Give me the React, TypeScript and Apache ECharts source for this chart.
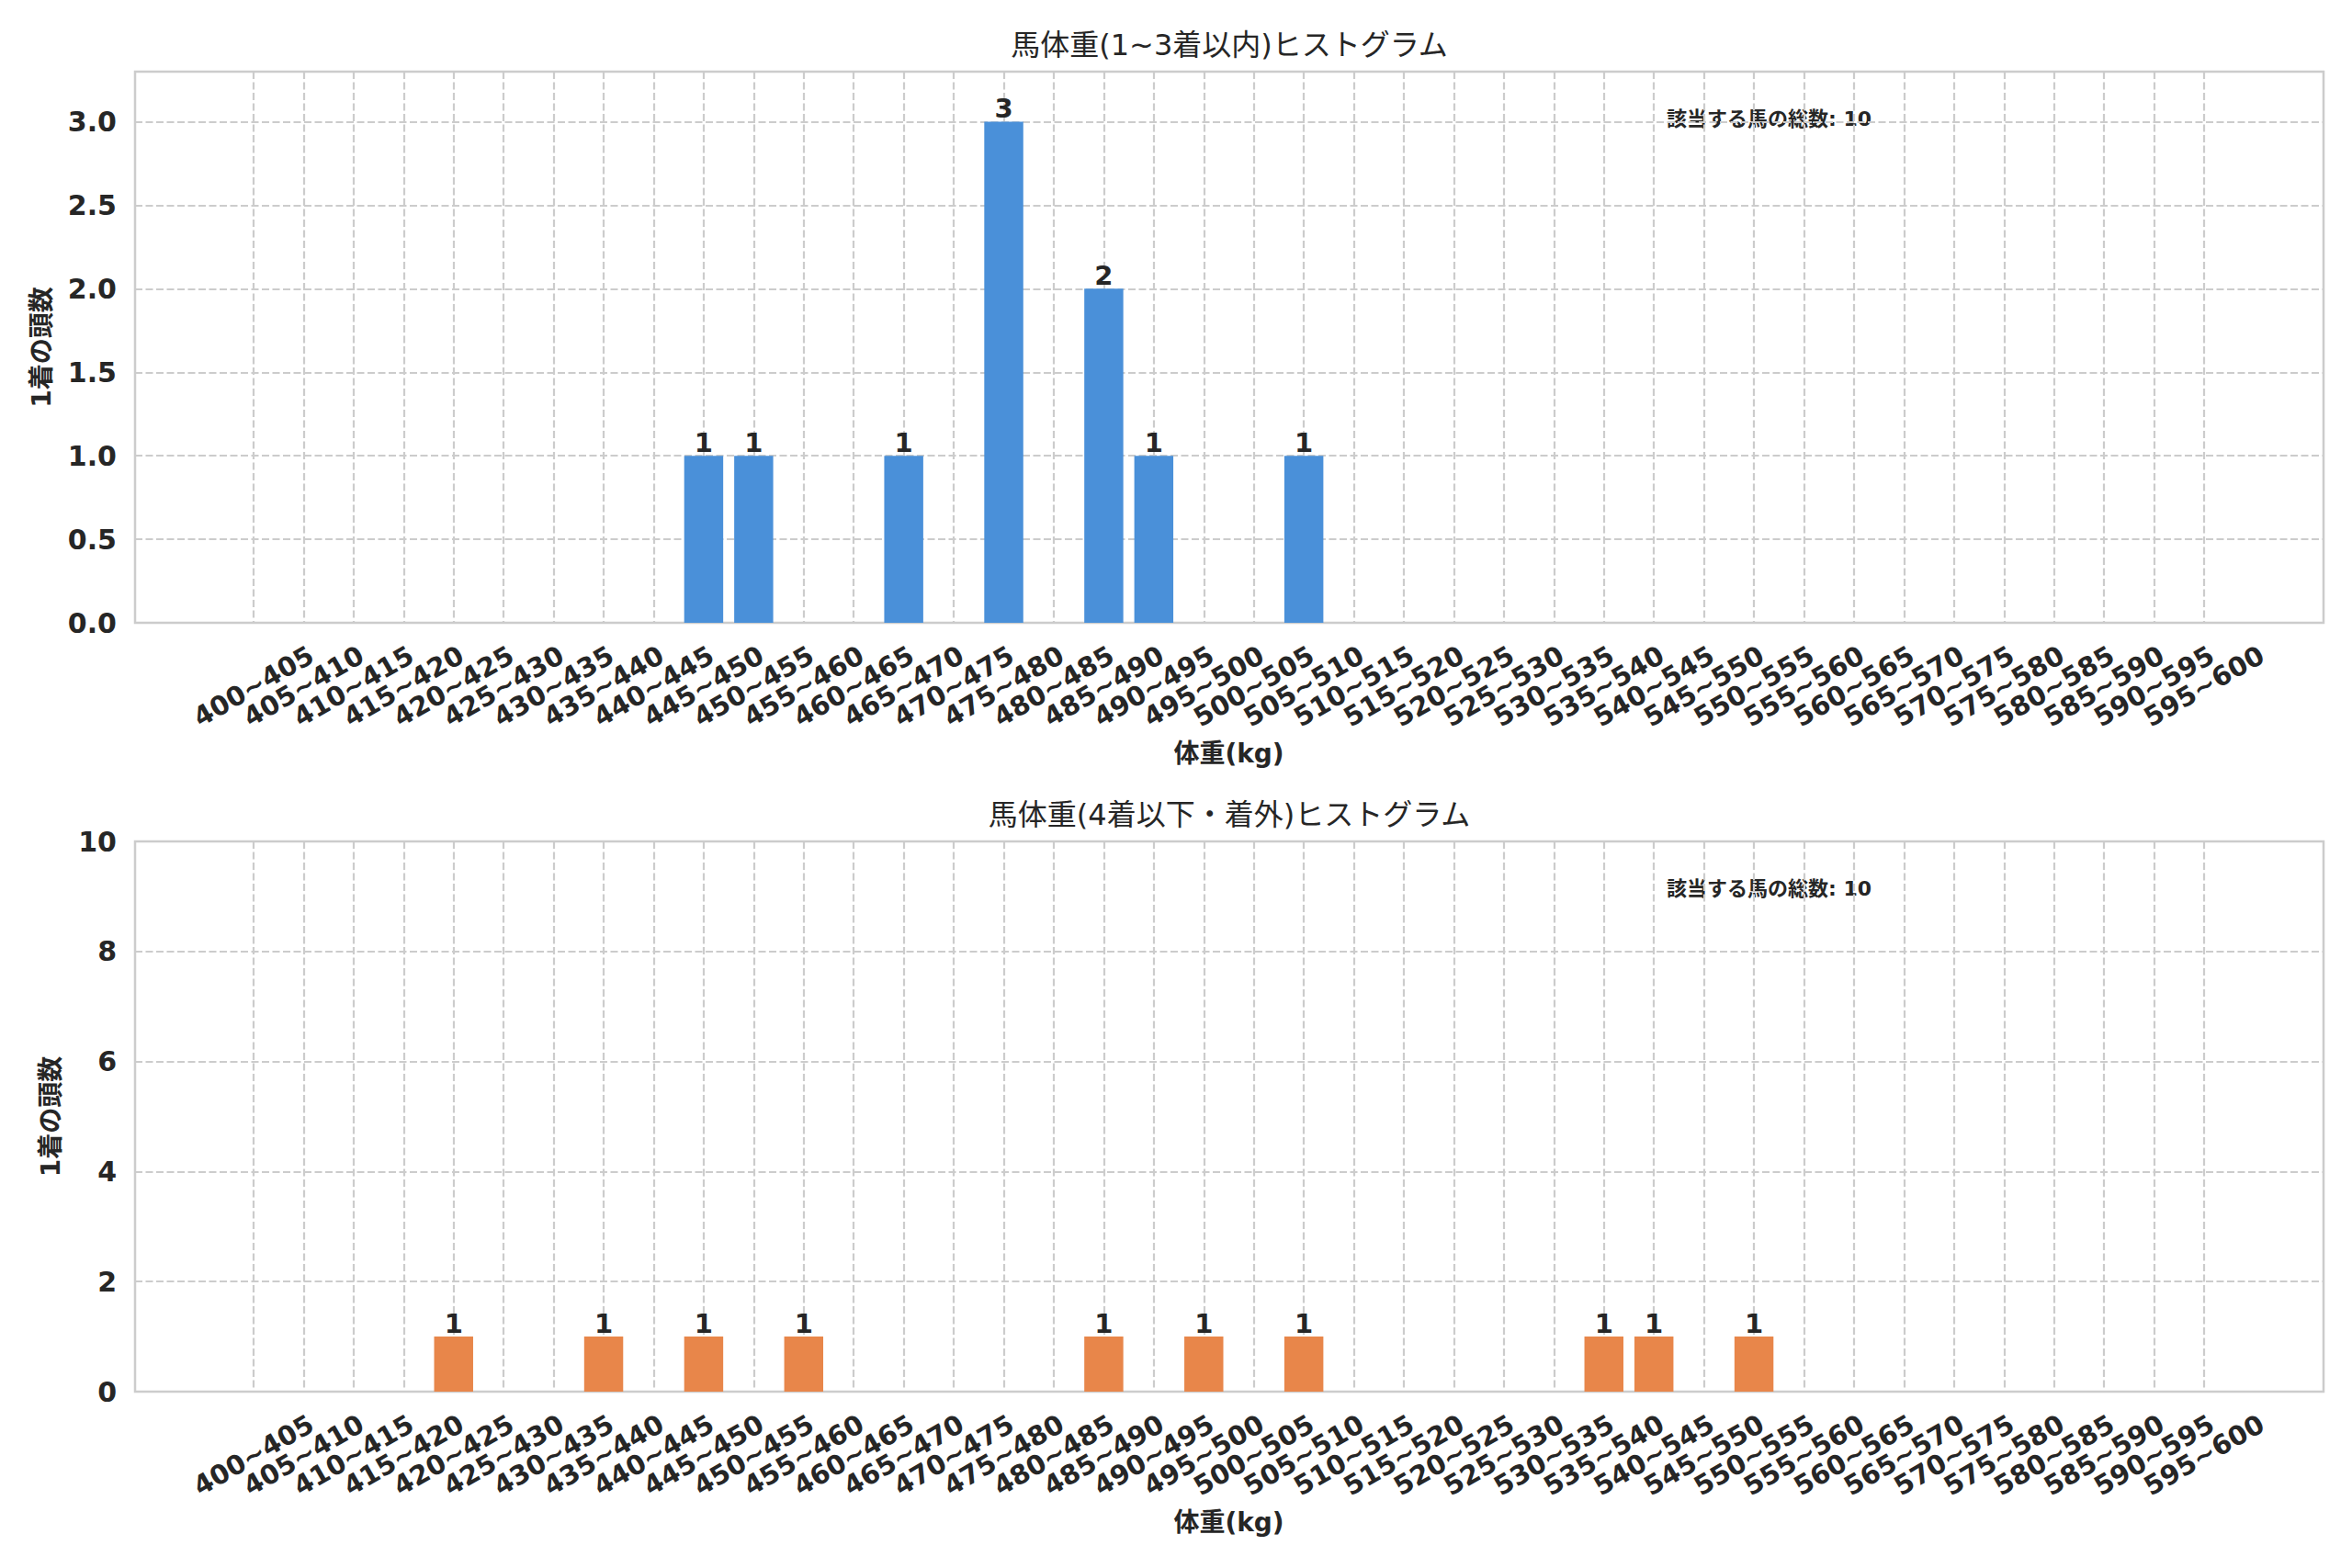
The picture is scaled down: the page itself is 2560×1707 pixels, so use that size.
import React, { useEffect, useRef } from "react";
import * as echarts from "echarts";

const categories = [
  "400~405", "405~410", "410~415", "415~420", "420~425", "425~430", "430~435", "435~440",
  "440~445", "445~450", "450~455", "455~460", "460~465", "465~470", "470~475", "475~480",
  "480~485", "485~490", "490~495", "495~500", "500~505", "505~510", "510~515", "515~520",
  "520~525", "525~530", "530~535", "535~540", "540~545", "545~550", "550~555", "555~560",
  "560~565", "565~570", "570~575", "575~580", "580~585", "585~590", "590~595", "595~600",
];

const topValues = [
  0, 0, 0, 0, 0, 0, 0, 0,
  0, 1, 1, 0, 0, 1, 0, 3,
  0, 2, 1, 0, 0, 1, 0, 0,
  0, 0, 0, 0, 0, 0, 0, 0,
  0, 0, 0, 0, 0, 0, 0, 0,
];

const bottomValues = [
  0, 0, 0, 0, 1, 0, 0, 1,
  0, 1, 0, 1, 0, 0, 0, 0,
  0, 1, 0, 1, 0, 1, 0, 0,
  0, 0, 0, 1, 1, 0, 1, 0,
  0, 0, 0, 0, 0, 0, 0, 0,
];

const topTitle = "馬体重(1~3着以内)ヒストグラム";
const bottomTitle = "馬体重(4着以下・着外)ヒストグラム";
const xLabel = "体重(kg)";
const yLabel = "1着の頭数";
const noteLabel = "該当する馬の総数";

const topYMax = 3.3;
const topYInterval = 0.5;
const bottomYMax = 10;
const bottomYInterval = 2;

const FONT = '"DejaVu Sans", "Noto Sans CJK JP", sans-serif';
const TEXT = "#262626";
const GRIDC = "#cccccc";
const BLUE = "#4a90d9";
const ORANGE = "#e8864a";

const OUTER_LEFT = 147;
const OUTER_W = 2382;
const INNER_LEFT = 276;
const INNER_W = 2123;
const PANELS = [
  { top: 78, height: 600 },
  { top: 916, height: 599 },
];

const dashed = { color: GRIDC, width: 2.2, type: [8, 3.5] as any };

function buildOption() {
  const sum = (a: number[]) => a.reduce((s, v) => s + v, 0);
  const panelsData = [
    { values: topValues, max: topYMax, interval: topYInterval, color: BLUE, title: topTitle, fmt: (v: number) => v.toFixed(1), nameGap: 88 },
    { values: bottomValues, max: bottomYMax, interval: bottomYInterval, color: ORANGE, title: bottomTitle, fmt: (v: number) => String(v), nameGap: 78 },
  ];

  const grid: any[] = [];
  const xAxis: any[] = [];
  const yAxis: any[] = [];
  const series: any[] = [];
  const graphic: any[] = [];

  panelsData.forEach((p, i) => {
    const { top, height } = PANELS[i];
    grid.push({
      left: OUTER_LEFT, top, width: OUTER_W, height, show: true,
      borderColor: GRIDC, borderWidth: 2.5, backgroundColor: "#ffffff", outerBoundsMode: "none",
    });
    grid.push({ left: INNER_LEFT, top, width: INNER_W, height, outerBoundsMode: "none" });
    const og = i * 2;
    const ig = i * 2 + 1;
    xAxis.push({ gridIndex: og, type: "value", show: false, min: 0, max: 1 });
    xAxis.push({
      gridIndex: ig,
      type: "category",
      data: categories,
      boundaryGap: false,
      axisLine: { show: false },
      axisTick: { show: false, interval: 0 },
      splitLine: { show: true, interval: 0, lineStyle: dashed },
      axisLabel: {
        interval: 0, rotate: 30, align: "center", verticalAlign: "middle", margin: 69,
        fontFamily: FONT, fontWeight: "bold", fontSize: 29, color: TEXT,
      },
      name: xLabel,
      nameLocation: "middle",
      nameGap: 128,
      nameMoveOverlap: false,
      nameTextStyle: { fontFamily: FONT, fontWeight: "bold", fontSize: 28, color: TEXT },
    });
    yAxis.push({
      gridIndex: og,
      type: "value",
      min: 0,
      max: p.max,
      interval: p.interval,
      axisLine: { show: false },
      axisTick: { show: false },
      splitLine: { show: true, lineStyle: dashed },
      axisLabel: {
        formatter: p.fmt, showMaxLabel: p.max % p.interval === 0, margin: 20,
        fontFamily: FONT, fontWeight: "bold", fontSize: 30, color: TEXT,
      },
      name: yLabel,
      nameLocation: "middle",
      nameGap: p.nameGap,
      nameRotate: 90,
      nameMoveOverlap: false,
      nameTextStyle: { fontFamily: FONT, fontWeight: "bold", fontSize: 28, color: TEXT },
    });
    yAxis.push({ gridIndex: ig, type: "value", min: 0, max: p.max, show: false });
    series.push({
      type: "bar",
      xAxisIndex: ig,
      yAxisIndex: ig,
      data: p.values,
      barWidth: "78%",
      itemStyle: { color: p.color },
      label: {
        show: true,
        position: "top",
        distance: 0,
        formatter: (d: any) => (d.value ? String(d.value) : ""),
        fontFamily: FONT, fontWeight: "bold", fontSize: 29, color: TEXT,
      },
    });
    graphic.push({
      type: "text",
      x: OUTER_LEFT + OUTER_W / 2,
      y: top - 29,
      style: {
        text: p.title, fontFamily: FONT, fontSize: 32, fontWeight: "normal", fill: TEXT,
        align: "center", verticalAlign: "middle",
      },
    });
    graphic.push({
      type: "text",
      x: 1814,
      y: top + 51,
      style: {
        text: `${noteLabel}: ${sum(p.values)}`, fontFamily: FONT, fontSize: 22, fontWeight: "bold", fill: TEXT,
        align: "left", verticalAlign: "middle",
      },
    });
  });

  return {
    animation: false,
    backgroundColor: "#ffffff",
    grid,
    xAxis,
    yAxis,
    series,
    graphic,
  };
}

export default function App() {
  const ref = useRef<HTMLDivElement>(null);
  useEffect(() => {
    if (!ref.current) return;
    const chart = echarts.init(ref.current, undefined, { renderer: "svg" });
    chart.setOption(buildOption() as any);
    return () => chart.dispose();
  }, []);
  return (
    <div
      ref={ref}
      style={{ position: "absolute", left: 0, top: 0, width: 2560, height: 1707, background: "#ffffff" }}
    />
  );
}
